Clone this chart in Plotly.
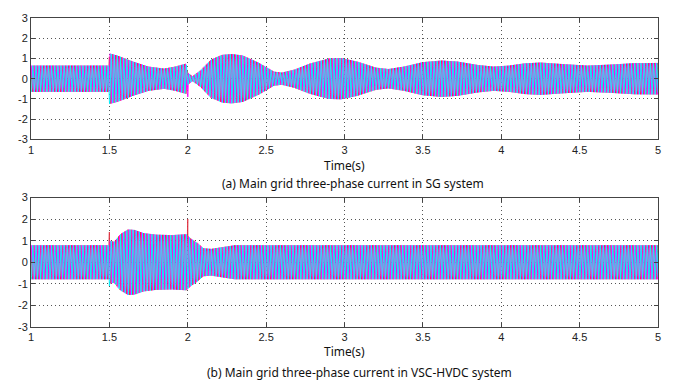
import numpy as np
import plotly.graph_objects as go
from plotly.subplots import make_subplots

# ---- data ----
freq_hz = 50.0
# (a) SG system: envelope (time s, amplitude pu)
sg_env_t = [1.0, 1.4999, 1.5, 1.55, 1.65, 1.75, 1.85, 1.92, 1.99, 2.0, 2.03, 2.08, 2.15,
            2.22, 2.28, 2.35, 2.45, 2.55, 2.6, 2.68, 2.78, 2.9, 2.98, 3.08, 3.2, 3.28,
            3.38, 3.5, 3.62, 3.72, 3.85, 3.95, 4.05, 4.15, 4.25, 4.4, 4.55, 4.7, 4.85, 5.0]
sg_env_a = [0.65, 0.65, 1.25, 1.15, 0.85, 0.6, 0.5, 0.6, 0.75, 0.3, 0.12, 0.4, 0.95,
            1.18, 1.22, 1.15, 0.8, 0.35, 0.3, 0.45, 0.75, 1.0, 1.02, 0.85, 0.55, 0.48,
            0.6, 0.82, 0.9, 0.85, 0.68, 0.6, 0.65, 0.76, 0.8, 0.72, 0.65, 0.7, 0.77, 0.78]
sg_spike_t = [2.0]
sg_spike_phase = [1]
sg_spike_v = [-0.9]

# (b) VSC-HVDC system
vsc_env_t = [1.0, 1.4999, 1.5, 1.53, 1.57, 1.62, 1.66, 1.72, 1.8, 1.9, 1.99, 2.02,
             2.06, 2.1, 2.15, 2.22, 2.3, 5.0]
vsc_env_a = [0.79, 0.79, 1.0, 0.95, 1.3, 1.52, 1.5, 1.35, 1.28, 1.26, 1.3, 1.1,
             0.9, 0.65, 0.62, 0.7, 0.79, 0.79]
vsc_spike_t = [1.5, 1.5, 2.0]
vsc_spike_phase = [0, 2, 0]
vsc_spike_v = [1.4, -1.1, 2.0]

# drawing order: red, magenta, cyan (cyan on top)
phase_colors = ["#E03040", "#FF00FF", "#00F0FF"]
phase_shift_deg = [120, 0, -120]
x_ticks = [1, 1.5, 2, 2.5, 3, 3.5, 4, 4.5, 5]
y_ticks = [-3, -2, -1, 0, 1, 2, 3]

dt = 0.0005
t = np.arange(1.0, 5.0 + dt / 2, dt)


def phases(env_t, env_a, sp_t, sp_p, sp_v):
    amp = np.interp(t, env_t, env_a)
    out = []
    for k, ph in enumerate(phase_shift_deg):
        y = amp * np.sin(2 * np.pi * freq_hz * t + np.deg2rad(ph))
        for st, sp, sv in zip(sp_t, sp_p, sp_v):
            if sp == k:
                i = int(round((st - 1.0) / dt))
                y[i] = sv
                y[i + 1] = (sv + y[i + 1]) / 2
        out.append(y)
    return out


fig = make_subplots(rows=2, cols=1)
for row, (et, ea, st, sp, sv) in enumerate(
        [(sg_env_t, sg_env_a, sg_spike_t, sg_spike_phase, sg_spike_v),
         (vsc_env_t, vsc_env_a, vsc_spike_t, vsc_spike_phase, vsc_spike_v)], start=1):
    ys = phases(et, ea, st, sp, sv)
    for k, y in enumerate(ys):
        fig.add_trace(go.Scatter(x=t, y=y, mode="lines",
                                 line=dict(color=phase_colors[k], width=0.9),
                                 showlegend=False, hoverinfo="skip"), row=row, col=1)

axis_common = dict(showline=True, linecolor="#444", linewidth=1, mirror="ticks",
                   ticks="inside", ticklen=4, tickcolor="#444",
                   showgrid=True, gridcolor="#555", griddash="1px,3px", gridwidth=1,
                   zeroline=False, tickfont=dict(family="Liberation Sans", size=11, color="#222"))
fig.update_xaxes(range=[1, 5], tickvals=x_ticks, ticktext=[f"{v:g}" for v in x_ticks], **axis_common)
fig.update_yaxes(range=[-3, 3], tickvals=y_ticks, ticktext=[str(v) for v in y_ticks], **axis_common)
fig.update_layout(
    width=673, height=381, plot_bgcolor="white", paper_bgcolor="white",
    margin=dict(l=31, r=14, t=14, b=54),
    xaxis=dict(domain=[0, 1]), yaxis=dict(domain=[0.607, 1.0]),
    xaxis2=dict(domain=[0, 1]), yaxis2=dict(domain=[0.0, 0.419]),
)
font_cap = dict(family="Noto Sans", size=12, color="#111")
for txt, xx, yy in [("Time(s)", 0.5, 0.522),
                    ("(a) Main grid three-phase current in SG system", 0.513, 0.463),
                    ("Time(s)", 0.5, -0.08),
                    ("(b) Main grid three-phase current in VSC-HVDC system", 0.524, -0.146)]:
    fig.add_annotation(text=txt, x=xx, y=yy, xref="paper", yref="paper",
                       showarrow=False, font=font_cap, xanchor="center", yanchor="middle")

fig.write_html("out.html", config={"displayModeBar": False},
               post_script="document.body.style.margin='0';document.body.style.overflow='hidden';")
